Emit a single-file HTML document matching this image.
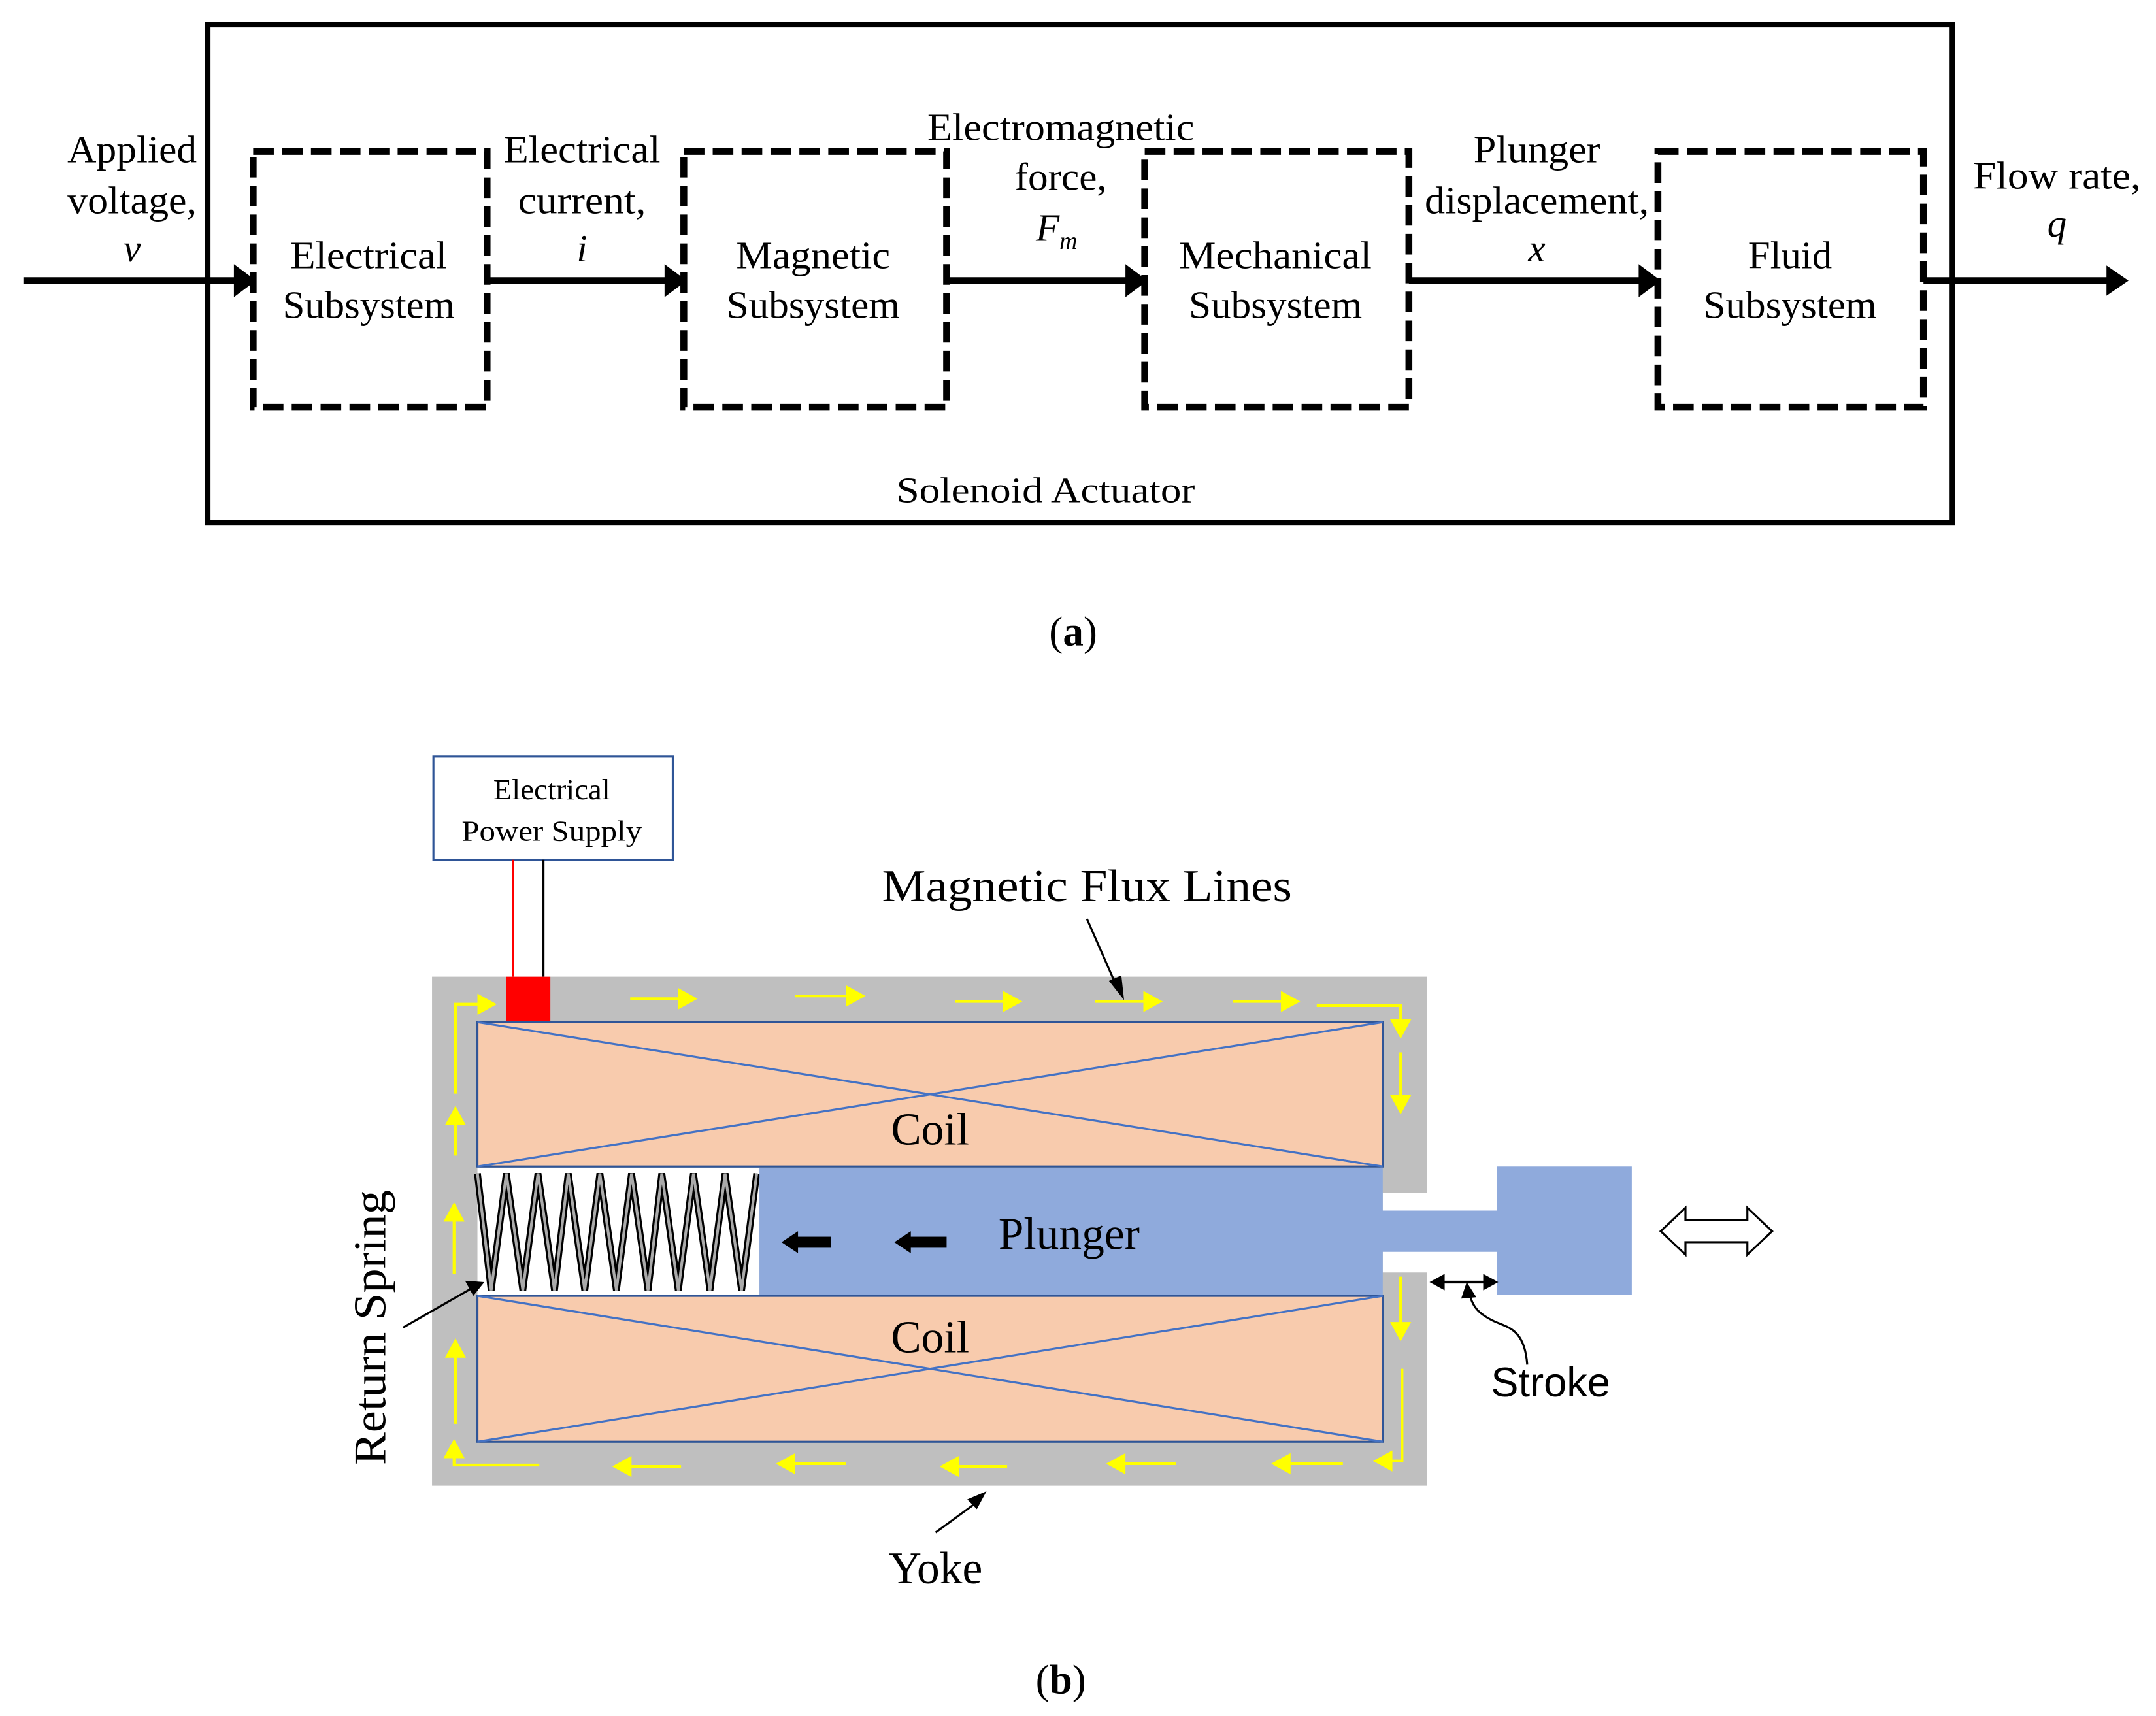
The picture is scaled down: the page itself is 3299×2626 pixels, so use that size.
<!DOCTYPE html>
<html><head><meta charset="utf-8"><style>
html,body{margin:0;padding:0;background:#fff;}
svg{display:block;}
text{font-family:"Liberation Serif",serif;fill:#000;}
.s{font-family:"Liberation Sans",sans-serif;}
</style></head><body>
<svg width="3299" height="2626" viewBox="0 0 1567 1247.4" preserveAspectRatio="none" xmlns="http://www.w3.org/2000/svg">
<!-- Part (a) -->
<rect x="151" y="18" width="1268" height="362" fill="none" stroke="#000" stroke-width="4"/>
<g fill="none" stroke="#000" stroke-width="5" stroke-dasharray="15,6">
<rect x="184" y="110" width="170" height="186"/>
<rect x="497" y="110" width="191" height="186"/>
<rect x="832" y="110" width="192" height="186"/>
<rect x="1205" y="110" width="193" height="186"/>
</g>
<g stroke="#000" stroke-width="5" fill="#000">
<line x1="17" y1="204" x2="172" y2="204"/><path d="M170,192 L186,204 L170,216z" stroke="none"/>
<line x1="354" y1="204" x2="485" y2="204"/><path d="M483,192 L499,204 L483,216z" stroke="none"/>
<line x1="688" y1="204" x2="820" y2="204"/><path d="M818,192 L834,204 L818,216z" stroke="none"/>
<line x1="1024" y1="204" x2="1193" y2="204"/><path d="M1191,192 L1207,204 L1191,216z" stroke="none"/>
<line x1="1398" y1="204" x2="1535" y2="204"/><path d="M1531,193 L1547,204 L1531,215z" stroke="none"/>
</g>
<g font-size="28" text-anchor="middle">
<text x="96" y="118" textLength="94" lengthAdjust="spacingAndGlyphs">Applied</text>
<text x="96" y="155" textLength="94" lengthAdjust="spacingAndGlyphs">voltage,</text>
<text x="96" y="190" font-style="italic">v</text>
<text x="423" y="118" textLength="114" lengthAdjust="spacingAndGlyphs">Electrical</text>
<text x="423" y="155" textLength="93" lengthAdjust="spacingAndGlyphs">current,</text>
<text x="423" y="190" font-style="italic">i</text>
<text x="771" y="102" textLength="194" lengthAdjust="spacingAndGlyphs">Electromagnetic</text>
<text x="771" y="138" textLength="67" lengthAdjust="spacingAndGlyphs">force,</text>
<text x="768" y="175" font-style="italic">F<tspan font-size="18" dy="6">m</tspan></text>
<text x="1117" y="118" textLength="92" lengthAdjust="spacingAndGlyphs">Plunger</text>
<text x="1117" y="155" textLength="163" lengthAdjust="spacingAndGlyphs">displacement,</text>
<text x="1117" y="190" font-style="italic">x</text>
<text x="1495" y="137" textLength="122" lengthAdjust="spacingAndGlyphs">Flow rate,</text>
<text x="1495" y="172" font-style="italic">q</text>
<text x="268" y="195" textLength="114" lengthAdjust="spacingAndGlyphs">Electrical</text>
<text x="268" y="231" textLength="125" lengthAdjust="spacingAndGlyphs">Subsystem</text>
<text x="591" y="195" textLength="112" lengthAdjust="spacingAndGlyphs">Magnetic</text>
<text x="591" y="231" textLength="126" lengthAdjust="spacingAndGlyphs">Subsystem</text>
<text x="927" y="195" textLength="140" lengthAdjust="spacingAndGlyphs">Mechanical</text>
<text x="927" y="231" textLength="126" lengthAdjust="spacingAndGlyphs">Subsystem</text>
<text x="1301" y="195" textLength="61" lengthAdjust="spacingAndGlyphs">Fluid</text>
<text x="1301" y="231" textLength="126" lengthAdjust="spacingAndGlyphs">Subsystem</text>
<text x="760" y="365" font-size="26" textLength="217" lengthAdjust="spacingAndGlyphs">Solenoid Actuator</text>
<text x="780" y="469" font-size="30">(<tspan font-weight="bold">a</tspan>)</text>
</g>
<!-- Part (b) -->
<rect x="315" y="550" width="174" height="75" fill="#fff" stroke="#2f5597" stroke-width="1.5"/>
<text x="401" y="581" font-size="21" text-anchor="middle" textLength="85" lengthAdjust="spacingAndGlyphs">Electrical</text>
<text x="401" y="611" font-size="21" text-anchor="middle" textLength="131" lengthAdjust="spacingAndGlyphs">Power Supply</text>
<line x1="373" y1="625" x2="373" y2="710" stroke="#f00" stroke-width="1.5"/>
<line x1="395" y1="625" x2="395" y2="710" stroke="#000" stroke-width="1.5"/>
<path d="M314,710 H1037 V867 H1005 V925 H1037 V1080 H314 Z" fill="#bfbfbf"/>
<rect x="368" y="710" width="32" height="33" fill="#f00"/>
<g fill="#f8cbad" stroke="#2f5597" stroke-width="1.5">
<rect x="347" y="743" width="658" height="105"/>
<rect x="347" y="942" width="658" height="106"/>
</g>
<g stroke="#4472c4" stroke-width="1.5">
<line x1="347" y1="743" x2="1005" y2="848"/><line x1="347" y1="848" x2="1005" y2="743"/>
<line x1="347" y1="942" x2="1005" y2="1048"/><line x1="347" y1="1048" x2="1005" y2="942"/>
</g>
<rect x="347" y="849" width="205" height="92" fill="#fff"/>
<polyline points="347,853 357,938 368,853 380,938 391,853 403,938 413,853 425,938 436,853 448,938 459,853 471,938 481,853 493,938 504,853 516,938 527,853 539,938 550,853" fill="none" stroke="#000" stroke-width="5"/>
<polyline points="347,853 357,938 368,853 380,938 391,853 403,938 413,853 425,938 436,853 448,938 459,853 471,938 481,853 493,938 504,853 516,938 527,853 539,938 550,853" fill="none" stroke="#aaa" stroke-width="2"/>
<path d="M552,849 H1005 V880 H1088 V848 H1186 V941 H1088 V910 H1005 V941 H552 Z" fill="#8faadc"/>
<g fill="#000">
<rect x="578" y="899" width="26" height="8"/><path d="M568,903 L580,895 L580,911z"/>
<rect x="660" y="899" width="28" height="8"/><path d="M650,903 L662,895 L662,911z"/>
</g>
<text x="777" y="908" font-size="33" text-anchor="middle">Plunger</text>
<text x="676" y="832" font-size="33" text-anchor="middle">Coil</text>
<text x="676" y="983" font-size="33" text-anchor="middle">Coil</text>
<g stroke="#ff0" stroke-width="2" fill="#ff0">
<line x1="458" y1="726" x2="496" y2="726"/><path d="M494,720 L505,726 L494,732z"/>
<line x1="578" y1="724" x2="618" y2="724"/><path d="M616,718 L627,724 L616,730z"/>
<line x1="694" y1="728" x2="732" y2="728"/><path d="M730,722 L741,728 L730,734z"/>
<line x1="796" y1="728" x2="834" y2="728"/><path d="M832,722 L843,728 L832,734z"/>
<line x1="896" y1="728" x2="934" y2="728"/><path d="M932,722 L943,728 L932,734z"/>
<polyline points="957,731 1018,731 1018,745" fill="none"/><path d="M1012,742 L1018,753 L1024,742z"/>
<line x1="1018" y1="765" x2="1018" y2="800"/><path d="M1012,797 L1018,808 L1024,797z"/>
<line x1="1018" y1="928" x2="1018" y2="965"/><path d="M1012,962 L1018,973 L1024,962z"/>
<polyline points="1019,995 1019,1062 1008,1062" fill="none"/><path d="M1011,1056 L1000,1062 L1011,1068z"/>
<line x1="976" y1="1064" x2="935" y2="1064"/><path d="M937,1058 L926,1064 L937,1070z"/>
<line x1="855" y1="1064" x2="815" y2="1064"/><path d="M817,1058 L806,1064 L817,1070z"/>
<line x1="732" y1="1066" x2="694" y2="1066"/><path d="M696,1060 L685,1066 L696,1072z"/>
<line x1="615" y1="1064" x2="575" y2="1064"/><path d="M577,1058 L566,1064 L577,1070z"/>
<line x1="495" y1="1066" x2="456" y2="1066"/><path d="M458,1060 L447,1066 L458,1072z"/>
<polyline points="392,1065 330,1065 330,1058" fill="none"/><path d="M324,1059 L330,1048 L336,1059z"/>
<line x1="331" y1="1035" x2="331" y2="984"/><path d="M325,986 L331,975 L337,986z"/>
<line x1="330" y1="926" x2="330" y2="885"/><path d="M324,887 L330,876 L336,887z"/>
<line x1="331" y1="840" x2="331" y2="815"/><path d="M325,817 L331,806 L337,817z"/>
<polyline points="331,795 331,730 350,730" fill="none"/><path d="M348,724 L359,730 L348,736z"/>
</g>
<text x="790" y="655" font-size="33" text-anchor="middle" textLength="298" lengthAdjust="spacingAndGlyphs">Magnetic Flux Lines</text>
<line x1="790" y1="668" x2="812" y2="718" stroke="#000" stroke-width="1.5"/><path d="M806,713 L817,727 L815,709z" fill="#000"/>
<text x="0" y="0" font-size="33" text-anchor="middle" transform="translate(280,965) rotate(-90)" textLength="200" lengthAdjust="spacingAndGlyphs">Return Spring</text>
<line x1="293" y1="965" x2="342" y2="937" stroke="#000" stroke-width="1.5"/><path d="M338,931 L352,932 L344,942z" fill="#000"/>
<text x="680" y="1151" font-size="33" text-anchor="middle">Yoke</text>
<line x1="680" y1="1114" x2="710" y2="1092" stroke="#000" stroke-width="1.5"/><path d="M703,1090 L717,1084 L710,1097z" fill="#000"/>
<text x="1127" y="1015" class="s" font-size="30" text-anchor="middle">Stroke</text>
<line x1="1045" y1="932" x2="1083" y2="932" stroke="#000" stroke-width="2"/>
<path d="M1039,932 L1050,926 L1050,938z M1089,932 L1078,926 L1078,938z" fill="#000"/>
<path d="M1110,992 C1108,965 1095,965 1085,960 C1075,955 1070,950 1068,940" fill="none" stroke="#000" stroke-width="1.5"/>
<path d="M1062,944 L1066,932 L1073,943z" fill="#000"/>
<path d="M1207,895 L1225,878 L1225,887 L1270,887 L1270,878 L1288,895 L1270,912 L1270,903 L1225,903 L1225,912 Z" fill="#fff" stroke="#000" stroke-width="1.5"/>
<text x="771" y="1231" font-size="30" text-anchor="middle">(<tspan font-weight="bold">b</tspan>)</text>
</svg>
</body></html>
